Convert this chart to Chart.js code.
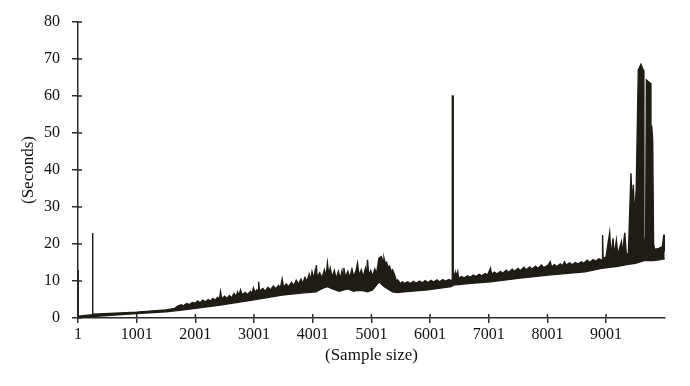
<!DOCTYPE html>
<html>
<head>
<meta charset="utf-8">
<title>Seconds vs sample size</title>
<script src="https://cdn.jsdelivr.net/npm/chart.js@4.4.1/dist/chart.umd.min.js"></script>
<style>
  html, body { margin: 0; padding: 0; background: #fff; }
  #wrap { width: 690px; height: 386px; position: relative; }
</style>
</head>
<body>
<div id="wrap"><canvas id="timeChart"></canvas></div>
<script>
// tick labels of the two axes
const sampleTicks = [1, 1001, 2001, 3001, 4001, 5001, 6001, 7001, 8001, 9001];
const secondTicks = [0, 10, 20, 30, 40, 50, 60, 70, 80];

// upper edge of the noisy band
const upperSample = [1, 4, 6, 244, 246, 254, 256, 1000, 1500, 1650,
  1700, 1760, 1800, 1850, 1900, 1950, 2001, 2040, 2080, 2130, 2170, 2220, 2260, 2300, 2340, 2380, 2410, 2430, 2450, 2500,
  2540, 2580, 2620, 2660, 2700, 2720, 2745, 2770, 2800, 2850, 2890, 2940, 2970, 2990, 3020, 3050, 3070, 3080, 3095, 3150,
  3190, 3240, 3280, 3330, 3370, 3420, 3450, 3480, 3505, 3550, 3590, 3640, 3680, 3720, 3760, 3800, 3830, 3870, 3900, 3940,
  3967, 3990, 4020, 4040, 4055, 4064, 4075, 4120, 4160, 4200, 4230, 4252, 4275, 4300, 4330, 4370, 4400, 4440, 4470, 4500,
  4520, 4532, 4560, 4600, 4630, 4670, 4700, 4740, 4765, 4790, 4830, 4860, 4900, 4920, 4935, 4955, 4990, 5020, 5060, 5090,
  5130, 5170, 5200, 5215, 5240, 5260, 5290, 5310, 5340, 5362, 5400, 5430, 5450, 5500, 5530, 5560, 5620, 5660, 5720, 5760,
  5820, 5870, 5920, 5962, 6020, 6060, 6120, 6160, 6220, 6260, 6320, 6360, 6376, 6380, 6392, 6396, 6430, 6440, 6473, 6485,
  6540, 6580, 6640, 6680, 6740, 6780, 6840, 6880, 6940, 6980, 7031, 7050, 7100, 7140, 7200, 7240, 7300, 7340, 7400, 7440,
  7500, 7540, 7600, 7640, 7700, 7740, 7800, 7840, 7900, 7940, 8013, 8050, 8070, 8120, 8160, 8220, 8260, 8291, 8320, 8380,
  8420, 8480, 8520, 8580, 8620, 8680, 8720, 8780, 8820, 8880, 8920, 8937, 8941, 8950, 9000, 9062, 9066, 9085, 9119, 9123,
  9140, 9176, 9180, 9200, 9262, 9266, 9280, 9319, 9323, 9345, 9380, 9425, 9445, 9465, 9480, 9493, 9515, 9550, 9595, 9635,
  9645, 9660, 9675, 9688, 9750, 9765, 9778, 9795, 9810, 9830, 9900, 9960, 9985, 9990, 10000];
const upperSeconds = [13, 13, 0.5, 0.9, 23, 23, 1.0, 1.6, 2.2, 2.6,
  3.2, 3.6, 3.3, 3.9, 3.6, 4.2, 4.0, 4.6, 4.1, 4.8, 4.3, 5.0, 4.6, 5.3, 4.8, 5.6, 5.0, 7.1, 5.2, 5.9,
  5.3, 6.1, 5.5, 6.6, 5.8, 7.0, 6.0, 7.6, 6.2, 6.9, 6.3, 7.2, 6.6, 8.1, 6.9, 7.6, 7.0, 9.8, 7.2, 8.0,
  7.3, 8.3, 7.6, 8.6, 7.9, 8.8, 8.0, 10.5, 8.3, 9.2, 8.5, 9.6, 8.8, 10.2, 9.1, 10.5, 9.4, 11.0, 9.8, 11.8,
  10.2, 12.5, 10.5, 12.6, 10.8, 14.3, 11.0, 12.2, 10.8, 13.0, 11.2, 14.8, 11.5, 13.5, 11.0, 12.8, 10.6, 12.6, 10.4, 12.8,
  10.8, 13.5, 11.0, 12.6, 10.8, 13.2, 11.2, 12.8, 14.8, 11.4, 13.0, 11.0, 13.4, 11.4, 15.7, 11.6, 12.8, 11.2, 13.2, 12.0,
  16.2, 16.6, 15.2, 16.2, 14.6, 15.0, 13.6, 14.0, 12.6, 13.0, 11.5, 9.8, 10.3, 9.2, 9.8, 9.3, 9.8, 9.3, 9.9, 9.4,
  10.0, 9.5, 10.1, 9.6, 10.2, 9.7, 10.3, 9.8, 10.4, 9.9, 10.4, 10.1, 10.2, 60, 60, 10.4, 12.3, 10.6, 12.5, 10.8,
  11.2, 10.8, 11.4, 11.0, 11.6, 11.2, 11.8, 11.4, 12.0, 11.6, 13.4, 11.8, 12.4, 11.9, 12.6, 12.1, 12.9, 12.3, 13.2, 12.6,
  13.4, 12.8, 13.7, 13.0, 13.8, 13.2, 14.0, 13.4, 14.3, 13.6, 14.3, 15.2, 13.8, 14.4, 13.9, 14.6, 14.1, 15.2, 14.3, 14.9,
  14.4, 15.0, 14.6, 15.2, 14.8, 15.6, 15.0, 15.8, 15.3, 16.0, 15.6, 15.8, 22.4, 16.0, 16.5, 23, 23, 16.5, 21.5, 21.5,
  16.8, 21, 21, 17, 20.6, 20.6, 17.2, 23, 23, 17.5, 17.0, 39.1, 30, 36, 30, 29, 35, 67, 68.6, 67,
  22, 18, 22, 64.3, 63.5, 30, 52, 48, 20, 18.5, 18.8, 19.3, 22.4, 22.4, 18];

// lower edge of the band
const lowerSample = [1, 250, 1000, 1500, 1700, 2001, 2428, 3000, 3480, 3850, 4064, 4100, 4200, 4252, 4350, 4450, 4532, 4600,
  4700, 4765, 4850, 4935, 5020, 5130, 5215, 5362, 5450, 5560, 5962, 6360, 6400, 6700, 7031, 7500, 8013, 8640, 8925, 9200,
  9380, 9500, 9650, 9800, 9900, 10000];
const lowerSeconds = [0, 0.4, 1.2, 1.7, 2.0, 2.6, 3.5, 4.9, 6.2, 6.8, 7.1, 7.5, 8.2, 8.5, 7.8, 7.2, 7.6, 7.9,
  7.2, 7.5, 7.4, 7.1, 7.6, 9.8, 8.5, 7.1, 6.9, 7.1, 7.6, 8.5, 8.9, 9.4, 9.8, 10.7, 11.6, 12.5, 13.4, 14.0,
  14.5, 14.8, 15.5, 15.5, 15.7, 16];

const inkColor = '#1f1b15';
const axisColor = '#2a2a2a';
const serif = "'Liberation Serif', 'Times New Roman', serif";

document.addEventListener('DOMContentLoaded', () => {

    function toPoints(xs, ys) {
        return xs.map((x, i) => ({ x: x, y: ys[i] }));
    }

    // small stubs so the ticks cross the axis line like in the original
    const innerTicks = {
        id: 'innerTicks',
        afterDraw(chart) {
            const c = chart.ctx;
            const xs = chart.scales.x;
            const ys = chart.scales.y;
            c.save();
            c.strokeStyle = axisColor;
            c.lineWidth = 1.5;
            c.beginPath();
            sampleTicks.forEach(v => {
                const px = xs.getPixelForValue(v);
                c.moveTo(px, xs.top);
                c.lineTo(px, xs.top - 4);
            });
            secondTicks.forEach(v => {
                const py = ys.getPixelForValue(v);
                c.moveTo(ys.right, py);
                c.lineTo(ys.right + 4, py);
            });
            c.stroke();
            c.restore();
        }
    };

    function createChart() {
        const ctx = document.getElementById('timeChart');
        if (!ctx) {
            console.error('Canvas element not found');
            return;
        }

        new Chart(ctx.getContext('2d'), {
            type: 'line',
            data: {
                datasets: [{
                    label: 'upper',
                    data: toPoints(upperSample, upperSeconds),
                    borderColor: inkColor,
                    backgroundColor: inkColor,
                    borderWidth: 1.4,
                    pointRadius: 0,
                    tension: 0,
                    fill: '+1'
                }, {
                    label: 'lower',
                    data: toPoints(lowerSample, lowerSeconds),
                    borderColor: inkColor,
                    borderWidth: 1.4,
                    pointRadius: 0,
                    tension: 0,
                    fill: false
                }]
            },
            options: {
                responsive: true,
                maintainAspectRatio: false,
                animation: false,
                layout: { padding: { left: 0, right: 25, top: 22, bottom: 0 } },
                plugins: {
                    legend: { display: false },
                    tooltip: { enabled: false }
                },
                scales: {
                    x: {
                        type: 'linear',
                        min: 1,
                        max: 10005,
                        afterBuildTicks: axis => { axis.ticks = sampleTicks.map(v => ({ value: v })); },
                        afterFit: axis => { axis.height = 68; },
                        grid: { display: true, drawOnChartArea: false, drawTicks: true, tickLength: 5, color: axisColor, lineWidth: 1.5 },
                        border: { display: true, color: axisColor, width: 1.5 },
                        ticks: {
                            autoSkip: false,
                            maxRotation: 0,
                            padding: 2,
                            color: '#111',
                            font: { family: serif, size: 16 },
                            callback: v => String(v)
                        },
                        title: {
                            display: true,
                            text: '(Sample size)',
                            color: '#111',
                            font: { family: serif, size: 17 },
                            padding: { top: 0, bottom: 20 }
                        }
                    },
                    y: {
                        min: 0,
                        max: 80,
                        afterBuildTicks: axis => { axis.ticks = secondTicks.map(v => ({ value: v })); },
                        afterFit: axis => { axis.width = 78; },
                        grid: { display: true, drawOnChartArea: false, drawTicks: true, tickLength: 6, color: axisColor, lineWidth: 1.5 },
                        border: { display: true, color: axisColor, width: 1.5 },
                        ticks: {
                            padding: 12,
                            color: '#111',
                            font: { family: serif, size: 16 }
                        },
                        title: {
                            display: true,
                            text: '(Seconds)',
                            color: '#111',
                            font: { family: serif, size: 17 },
                            padding: { top: 18, bottom: 0 }
                        }
                    }
                }
            },
            plugins: [innerTicks]
        });
    }

    createChart();
});
</script>
</body>
</html>
